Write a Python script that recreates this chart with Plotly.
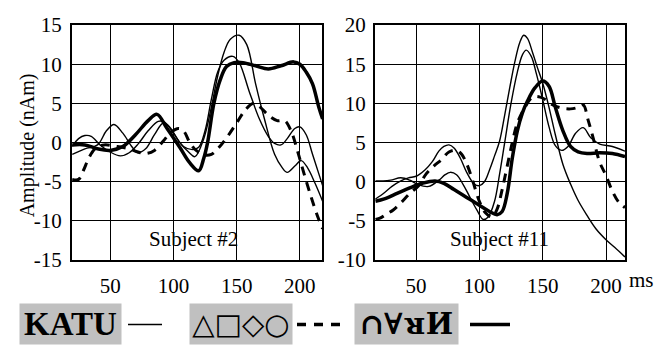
import plotly.graph_objects as go

W, H = 662, 356

# ---------------- Subject #2 (left panel) ----------------
s2_katu_a_t = [20, 30, 40, 47, 53, 60, 67, 72, 78, 85, 92, 97, 105, 112, 117, 124, 130, 135, 140, 145, 152, 158, 165, 172, 180, 186, 190, 196, 201, 206, 212, 218]
s2_katu_a_v = [-1.5, -0.8, -0.3, 1.5, 2.3, 1.2, -0.5, -1.3, -0.8, 1.0, 2.5, 2.0, 0.0, -1.2, -1.8, 0.5, 4.5, 8.5, 11.5, 13.2, 13.7, 12.5, 7.5, 3.0, -1.5, -3.2, -3.8, -3.0, -2.3, -3.2, -5.2, -7.5]

s2_katu_b_t = [20, 25, 30, 35, 42, 50, 58, 65, 72, 80, 88, 93, 100, 108, 115, 120, 125, 130, 135, 140, 147, 152, 160, 168, 175, 180, 185, 190, 196, 200, 205, 210, 218]
s2_katu_b_v = [-0.5, 0.5, 0.9, 0.8, -0.3, -1.2, -1.7, -1.3, -0.2, 1.5, 2.7, 2.6, 1.2, -0.5, -0.9, -0.6, 1.5, 5.5, 9.0, 10.5, 11.0, 10.2, 6.5, 3.0, 0.8, -0.1, -0.3, 0.5, 1.8, 2.0, 1.0, -1.5, -5.5]

s2_shapes_t = [20, 25, 29, 33, 38, 45, 55, 65, 72, 78, 85, 92, 98, 104, 108, 113, 118, 125, 130, 135, 142, 150, 157, 163, 168, 175, 182, 188, 193, 198, 203, 209, 214, 218]
s2_shapes_v = [-4.7, -4.7, -3.5, -2.0, -0.8, -0.3, -0.5, -0.8, -1.2, -1.4, -1.0, 0.2, 1.3, 1.8, 1.5, 0.0, -1.0, -1.6, -1.5, -0.8, 0.6, 2.5, 4.2, 5.0, 4.6, 3.5, 2.8, 2.8, 1.5, -1.0, -3.8, -7.0, -9.4, -11.0]

s2_flip_t = [20, 30, 40, 50, 60, 70, 80, 87, 95, 105, 113, 120, 124, 127, 132, 137, 142, 148, 155, 165, 175, 185, 195, 200, 205, 210, 215, 218]
s2_flip_v = [-0.3, -0.3, -0.8, -1.0, -0.5, 1.0, 2.8, 3.6, 1.8, -0.6, -2.6, -3.6, -2.0, 0.0, 5.0, 8.0, 9.7, 10.2, 10.2, 9.8, 9.4, 9.8, 10.3, 10.0, 9.0, 7.5, 4.5, 3.0]

# ---------------- Subject #11 (right panel) ----------------
s11_katu_a_t = [18, 25, 31, 38, 44, 50, 57, 63, 68, 72, 76, 80, 85, 90, 96, 100, 104, 108, 112, 116, 120, 124, 128, 132, 135, 138, 142, 146, 150, 155, 160, 166, 172, 178, 185, 192, 200, 207, 215]
s11_katu_a_v = [-2.2, -1.4, -0.6, 0.1, 0.5, 0.7, 1.5, 2.6, 3.9, 4.5, 4.7, 4.3, 3.0, 1.2, -0.3, -0.5, 0.0, 1.5, 3.3, 5.2, 8.5, 12.0, 15.3, 17.8, 18.7, 18.3, 16.5, 14.5, 12.6, 9.5, 6.0, 2.2, -0.3, -2.4, -4.3, -6.0, -7.4, -8.4, -9.6]

s11_katu_b_t = [18, 24, 30, 38, 45, 52, 60, 68, 73, 77, 82, 87, 92, 98, 103, 107, 112, 116, 120, 125, 130, 134, 137, 141, 145, 150, 155, 160, 165, 170, 176, 182, 188, 195, 205, 215]
s11_katu_b_v = [0.1, 0.1, 0.2, 0.5, 0.2, -0.4, -0.6, 0.2, 0.9, 1.2, 0.9, -0.3, -1.8, -3.6, -4.8, -4.5, -2.5, 1.0, 5.0, 10.0, 14.0, 16.2, 16.8, 16.0, 13.8, 10.5, 7.0, 4.6, 4.0, 4.5, 6.2, 6.9, 5.6, 4.8, 4.5, 3.9]

s11_shapes_t = [18, 22, 26, 32, 38, 45, 52, 58, 64, 70, 76, 82, 86, 90, 95, 100, 105, 110, 114, 118, 122, 126, 130, 136, 142, 148, 153, 158, 165, 172, 178, 182, 186, 190, 195, 200, 205, 210, 215]
s11_shapes_v = [-4.8, -4.6, -4.2, -3.6, -2.7, -1.5, -0.5, 1.0, 2.0, 2.8, 3.8, 4.0, 3.5, 2.3, 0.0, -2.5, -4.0, -4.5, -3.5, -1.0, 2.0, 5.0, 7.5, 9.5, 10.8, 10.8, 10.4, 9.8, 9.4, 9.3, 9.5, 9.8, 7.8, 5.5, 2.5, 0.8, -1.2, -2.6, -3.3]

s11_flip_t = [18, 25, 35, 45, 55, 65, 72, 80, 90, 100, 108, 114, 118, 122, 126, 130, 134, 138, 144, 150, 155, 160, 166, 172, 178, 185, 195, 205, 215]
s11_flip_v = [-2.5, -2.2, -1.5, -0.8, -0.2, 0.1, -0.2, -1.0, -2.0, -3.0, -3.8, -4.2, -3.8, -1.5, 3.0, 6.5, 8.8, 10.3, 12.0, 12.85, 12.2, 9.5, 6.5, 4.5, 3.8, 3.6, 3.7, 3.6, 3.2]

# ticks and labels
x_ticks = [50, 100, 150, 200]
y2_ticks = [-15, -10, -5, 0, 5, 10, 15]
y11_ticks = [-10, -5, 0, 5, 10, 15, 20]
panel_titles = ["Subject #2", "Subject #11"]
legend_labels = ["KATU", "△□◇○", "∩∀ᴚИ"]
y_title = "Amplitude (nAm)"

SERIF = "Liberation Serif, Times New Roman, serif"

fig = go.Figure()

thin = dict(color="black", width=1.4, shape="spline", smoothing=1.0)
dashed = dict(color="black", width=3.0, dash="9px,7px", shape="spline", smoothing=1.0)
thick = dict(color="black", width=3.5, shape="spline", smoothing=1.0)

for (t, v, ln) in [
    (s2_katu_a_t, s2_katu_a_v, thin),
    (s2_katu_b_t, s2_katu_b_v, thin),
    (s2_shapes_t, s2_shapes_v, dashed),
    (s2_flip_t, s2_flip_v, thick),
]:
    fig.add_trace(go.Scatter(x=t, y=v, mode="lines", line=ln, xaxis="x", yaxis="y", hoverinfo="skip"))

for (t, v, ln) in [
    (s11_katu_a_t, s11_katu_a_v, thin),
    (s11_katu_b_t, s11_katu_b_v, thin),
    (s11_shapes_t, s11_shapes_v, dashed),
    (s11_flip_t, s11_flip_v, thick),
]:
    fig.add_trace(go.Scatter(x=t, y=v, mode="lines", line=ln, xaxis="x2", yaxis="y2", hoverinfo="skip"))

def px(x):
    return x / W

def py(y):
    return 1 - y / H

common = dict(
    showgrid=True, gridcolor="black", gridwidth=1.2,
    showline=True, linecolor="black", linewidth=2, mirror=True,
    ticks="", zeroline=False,
    tickfont=dict(family=SERIF, size=21, color="black"),
    fixedrange=True,
)

ydom = [py(266), py(14)]

fig.update_layout(
    width=W, height=H,
    margin=dict(l=0, r=0, t=0, b=0),
    paper_bgcolor="white", plot_bgcolor="white",
    showlegend=False,
    xaxis=dict(domain=[px(72), px(322)], range=[19.8, 217.5], anchor="y", ticklabelstandoff=6,
               tickvals=x_ticks, ticktext=[str(v) for v in x_ticks], **common),
    yaxis=dict(domain=ydom, range=[-15, 15], anchor="x", ticklabelstandoff=4,
               tickvals=y2_ticks, ticktext=[str(v) for v in y2_ticks], **common),
    xaxis2=dict(domain=[px(375), px(625)], range=[17.6, 215], anchor="y2", ticklabelstandoff=6,
                tickvals=x_ticks, ticktext=[str(v) for v in x_ticks], **common),
    yaxis2=dict(domain=ydom, range=[-10, 20], anchor="x2", ticklabelstandoff=3,
                tickvals=y11_ticks, ticktext=[str(v) for v in y11_ticks], **common),
)

def note(text, x, y, **kw):
    d = dict(text=text, x=px(x), y=py(y), xref="paper", yref="paper",
             xanchor="center", yanchor="middle", showarrow=False,
             font=dict(family=SERIF, size=21, color="black"))
    d.update(kw)
    return d

ann = []
ann.append(note(panel_titles[0], 193, 243))
ann.append(note(panel_titles[1], 499, 243))
ann.append(note(y_title, 27, 143, textangle=-90, font=dict(family=SERIF, size=20, color="black")))
ann.append(note("ms", 627, 287, xanchor="left"))

box_gray = "#c0c0c0"
ann.append(note("<b>" + legend_labels[0] + "</b>", 70.5, 335, width=101, height=40,
                bgcolor=box_gray, borderpad=0, font=dict(family=SERIF, size=33, color="black")))
ann.append(note(legend_labels[1], 241, 335, width=102, height=40,
                bgcolor=box_gray, borderpad=0, font=dict(family="DejaVu Sans", size=29, color="black")))
ann.append(note("<b>" + legend_labels[2] + "</b>", 406.5, 335, width=103, height=40,
                bgcolor=box_gray, borderpad=0, font=dict(family="DejaVu Serif, serif", size=29, color="black")))

shapes = [
    dict(type="line", xref="paper", yref="paper", x0=px(128), x1=px(162), y0=py(335), y1=py(335),
         line=dict(color="black", width=1.5)),
    dict(type="line", xref="paper", yref="paper", x0=px(297), x1=px(340), y0=py(335), y1=py(335),
         line=dict(color="black", width=3.5, dash="9px,8px")),
    dict(type="line", xref="paper", yref="paper", x0=px(470), x1=px(510), y0=py(335), y1=py(335),
         line=dict(color="black", width=3.5)),
]

fig.update_layout(annotations=ann, shapes=shapes)

fig.write_html("out.html")
